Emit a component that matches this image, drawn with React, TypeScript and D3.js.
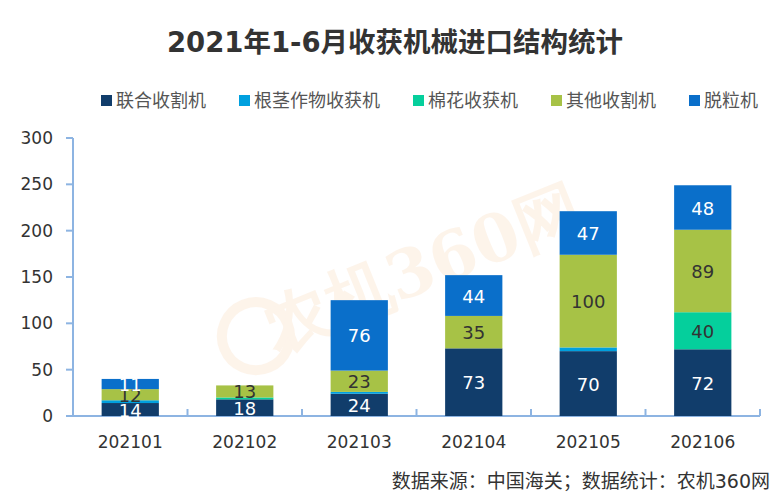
import * as d3 from "d3";

const months = ["202101", "202102", "202103", "202104", "202105", "202106"];
const seriesNames = ["联合收割机", "根茎作物收获机", "棉花收获机", "其他收割机", "脱粒机"];
const combine = [14, 18, 24, 73, 70, 72];
const rootCrop = [3, 0, 2, 0, 4, 0];
const cotton = [0, 2, 0, 0, 0, 40];
const other = [12, 13, 23, 35, 100, 89];
const thresher = [11, 0, 76, 44, 47, 48];
const yTicks = [0, 50, 100, 150, 200, 250, 300];

const colors = ["#113d6b", "#00a0df", "#05cf9c", "#a7c246", "#0a6fca"];
const labelColors = ["#ffffff", "#ffffff", "#333333", "#333333", "#ffffff"];

const W = 784;
const H = 500;
const margin = { top: 138, right: 24, bottom: 84, left: 73 };
const font = "'DejaVu Sans', 'Noto Sans CJK SC', sans-serif";

export default function App() {
  const values = [combine, rootCrop, cotton, other, thresher];
  const rows = months.map((m, i) => {
    const r: any = { month: m };
    seriesNames.forEach((s, k) => (r[s] = values[k][i]));
    return r;
  });
  const stacked = d3.stack<any>().keys(seriesNames)(rows);

  const x = d3
    .scaleBand()
    .domain(months)
    .range([margin.left, W - margin.right])
    .paddingInner(0.5)
    .paddingOuter(0.25);
  const y = d3
    .scaleLinear()
    .domain([0, 300])
    .range([H - margin.bottom, margin.top]);

  const step = x.step();
  const axisColor = "#8db4e2";
  const base = y(0);

  // legend layout
  const legendFs = 18;
  let lx = 101;
  const legend = seriesNames.map((s, k) => {
    const item = { s, k, x: lx };
    lx += 12 + 4 + s.length * legendFs + 32;
    return item;
  });

  return (
    <div style={{ position: "fixed", left: 0, top: 0 }}>
      <svg width={W} height={H} style={{ display: "block", background: "#fff" }} fontFamily={font}>
        {/* watermark */}
        <g transform="translate(395,280) rotate(-22)" opacity={0.09}>
          <circle cx={-150} cy={0} r={34} fill="none" stroke="#f08a24" strokeWidth={10} />
          <text
            x={30}
            y={22}
            textAnchor="middle"
            fontSize={66}
            fontWeight="bold"
            fill="#f08a24"
            fontFamily="'DejaVu Serif', serif"
          >
            农机360网
          </text>
        </g>

        <text x={W / 2 + 3} y={52} textAnchor="middle" fontSize={27.5} fontWeight="bold" fill="#333">
          2021年1-6月收获机械进口结构统计
        </text>

        {legend.map((l) => (
          <g key={l.s}>
            <rect x={l.x} y={95} width={11} height={11} fill={colors[l.k]} />
            <text x={l.x + 15} y={107} fontSize={legendFs} fill="#555" fontFamily="'Noto Sans CJK SC'">
              {l.s}
            </text>
          </g>
        ))}

        {/* y axis */}
        <line x1={margin.left} x2={margin.left} y1={y(300)} y2={base} stroke={axisColor} strokeWidth={2} />
        {yTicks.map((t) => (
          <g key={t}>
            <line x1={margin.left - 7} x2={margin.left} y1={y(t)} y2={y(t)} stroke={axisColor} strokeWidth={2} />
            <text x={53} y={y(t) + 6} textAnchor="end" fontSize={17} fill="#333">
              {t}
            </text>
          </g>
        ))}

        {/* x axis */}
        <line x1={margin.left - 7} x2={W - margin.right} y1={base} y2={base} stroke={axisColor} strokeWidth={2} />
        {months.map((m, i) => (
          <line
            key={"t" + m}
            x1={margin.left + step * (i + 1)}
            x2={margin.left + step * (i + 1)}
            y1={base - 7}
            y2={base}
            stroke={axisColor}
            strokeWidth={2}
          />
        ))}
        {months.map((m) => (
          <text key={m} x={(x(m) ?? 0) + x.bandwidth() / 2} y={base + 32} textAnchor="middle" fontSize={17} fill="#333">
            {m}
          </text>
        ))}

        {/* bars */}
        {stacked.map((layer, k) => (
          <g key={layer.key}>
            {layer.map((d, i) =>
              d[1] - d[0] > 0 ? (
                <rect
                  key={i}
                  x={x(months[i])}
                  y={y(d[1])}
                  width={x.bandwidth()}
                  height={y(d[0]) - y(d[1])}
                  fill={colors[k]}
                />
              ) : null
            )}
          </g>
        ))}
        {stacked.map((layer, k) => (
          <g key={"l" + layer.key}>
            {layer.map((d, i) =>
              d[1] - d[0] >= 10 ? (
                <text
                  key={i}
                  x={(x(months[i]) ?? 0) + x.bandwidth() / 2}
                  y={(y(d[0]) + y(d[1])) / 2 + 7}
                  textAnchor="middle"
                  fontSize={18}
                  fill={labelColors[k]}
                >
                  {d[1] - d[0]}
                </text>
              ) : null
            )}
          </g>
        ))}

        <text x={770} y={488} textAnchor="end" fontSize={19} fill="#333">
          数据来源：中国海关；数据统计：农机360网
        </text>
      </svg>
    </div>
  );
}
